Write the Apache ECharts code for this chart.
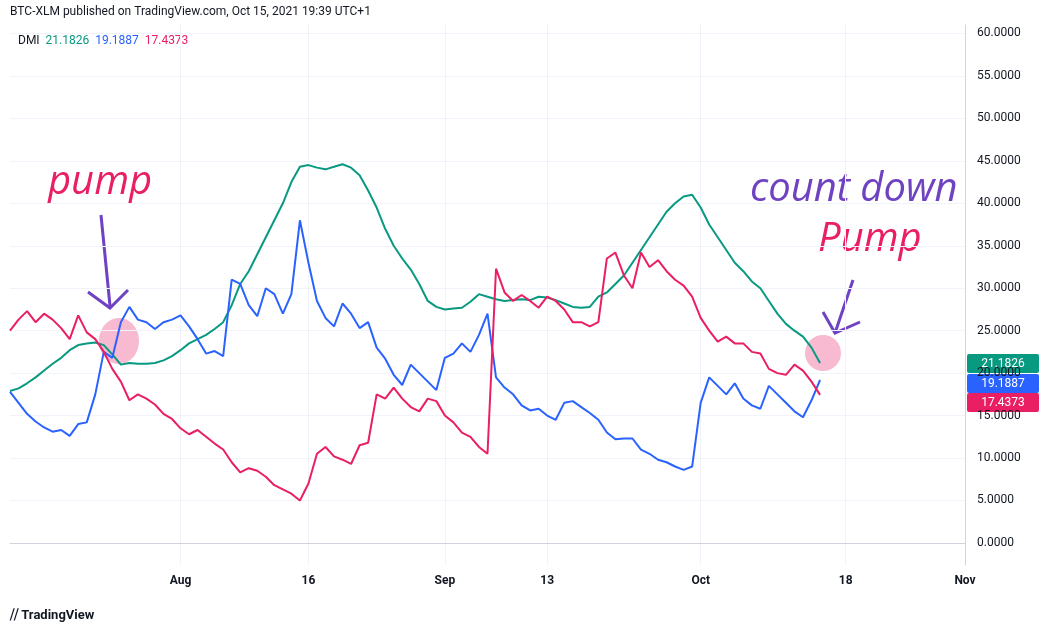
<!DOCTYPE html><html><head><meta charset="utf-8"><script src="https://cdn.jsdelivr.net/npm/echarts@6/dist/echarts.min.js"></script>
<style>body{margin:0}#c{width:1052px;height:635px}</style></head><body><div id="c"></div><script>
const months=['Jan','Feb','Mar','Apr','May','Jun','Jul','Aug','Sep','Oct','Nov','Dec'];
const categories=[];for(let d=new Date(2021,6,12);d<=new Date(2021,10,1);d.setDate(d.getDate()+1))categories.push(months[d.getMonth()]+' '+d.getDate());
const tickLabels={'Aug 1':'Aug','Aug 16':'16','Sep 1':'Sep','Sep 13':'13','Oct 1':'Oct','Oct 18':'18','Nov 1':'Nov'};
const yTicks=[0,5,10,15,20,25,30,35,40,45,50,55,60];
const adx=[17.9,18.2,18.8,19.5,20.3,21.1,21.8,22.7,23.3,23.5,23.6,23.3,22.2,21.0,21.2,21.1,21.1,21.2,21.5,22.0,22.7,23.5,24.0,24.5,25.2,26.0,28.0,30.5,32.0,34.0,36.0,38.0,40.0,42.5,44.3,44.5,44.2,44.0,44.3,44.6,44.2,43.3,41.5,39.5,37.0,35.0,33.5,32.2,30.5,28.5,27.8,27.5,27.6,27.7,28.4,29.3,29.0,28.7,28.5,28.6,28.7,28.6,29.0,28.9,28.6,28.2,27.8,27.7,27.8,29.0,29.5,30.5,31.5,33.0,34.5,36.0,37.5,39.0,40.0,40.8,41.0,39.5,37.5,36.0,34.5,33.0,32.0,30.8,30.0,28.5,27.0,25.8,25.0,24.3,23.0,21.18];
const plusDI=[17.8,16.5,15.2,14.3,13.6,13.1,13.3,12.6,14.0,14.2,17.5,22.5,21.8,26.0,27.8,26.3,26.0,25.2,26.0,26.3,26.8,25.5,24.0,22.3,22.6,22.0,31.0,30.5,28.0,26.7,30.0,29.3,27.0,29.3,38.0,33.0,28.5,26.5,25.5,28.2,27.0,25.3,26.0,23.0,21.7,19.8,18.6,21.0,20.0,19.0,18.0,21.8,22.3,23.5,22.5,24.5,27.0,19.5,18.3,17.5,16.2,15.6,15.8,15.0,14.5,16.5,16.7,16.0,15.3,14.5,13.0,12.2,12.3,12.3,11.0,10.5,9.8,9.5,9.0,8.6,9.0,16.5,19.5,18.5,17.5,18.8,17.0,16.2,15.8,18.5,17.5,16.5,15.5,14.8,16.8,19.19];
const minusDI=[25.0,26.3,27.3,26.0,27.0,26.3,25.3,24.0,26.8,24.8,24.0,22.5,20.5,19.0,16.8,17.5,17.0,16.3,15.2,14.6,13.5,12.8,13.3,12.5,11.7,11.0,9.5,8.3,8.8,8.5,7.8,6.8,6.3,5.8,5.0,7.0,10.5,11.3,10.2,9.8,9.3,11.5,11.8,17.5,17.0,18.3,17.0,16.0,15.5,17.0,16.7,15.0,14.2,13.0,12.5,11.3,10.5,32.3,29.5,28.5,29.2,28.5,27.7,29.0,28.5,27.5,26.0,26.0,25.5,26.0,33.5,34.2,31.5,30.0,34.2,32.5,33.3,32.0,31.0,30.3,29.0,26.5,25.0,23.7,24.3,23.5,23.5,22.5,22.3,20.5,20.0,19.8,21.0,20.3,19.0,17.44];
const G='#089981',B='#2962ff',R='#e91e63',P='#6f42c1';
const ch=echarts.init(document.getElementById('c'));
const ln=(d,c)=>({type:'line',data:d,symbol:'none',lineStyle:{color:c,width:2},itemStyle:{color:c}});
const tag=(y,c,t)=>({type:'group',children:[{type:'rect',shape:{x:967,y:y,width:72,height:19,r:2},style:{fill:c}},{type:'text',x:1003,y:y+10,style:{text:t,fill:'#fff',font:'12px Roboto',align:'center',verticalAlign:'middle'}}]});
ch.setOption({animation:false,
grid:{left:10,right:87,top:25,bottom:70},
xAxis:{type:'category',data:categories,boundaryGap:false,axisLine:{lineStyle:{color:'#d1d4dc'}},axisTick:{show:false},
 axisLabel:{interval:(i,v)=>!!tickLabels[v],formatter:v=>tickLabels[v]||'',color:'#131722',fontSize:12,fontWeight:'bold',fontFamily:'Roboto',margin:10},
 splitLine:{show:true,interval:(i,v)=>!!tickLabels[v],lineStyle:{color:'#f0f3fa'}}},
yAxis:{type:'value',position:'right',min:-2.6,max:61,axisLine:{show:true,lineStyle:{color:'#d1d4dc'}},
 axisTick:{show:false,customValues:yTicks},
 axisLabel:{customValues:yTicks,formatter:v=>v.toFixed(4),color:'#131722',fontSize:12,fontFamily:'Roboto',margin:12},splitLine:{lineStyle:{color:'#f0f3fa'}}},
series:[ln(adx,G),ln(plusDI,B),ln(minusDI,R)],
graphic:[
 {type:'text',x:10,y:6,style:{text:'BTC-XLM published on TradingView.com, Oct 15, 2021 19:39 UTC+1',fill:'#131722',font:'12px Roboto'}},
 {type:'text',x:18,y:35,style:{rich:{a:{fill:'#131722'},g:{fill:G},b:{fill:B},r:{fill:R}},text:'{a|DMI}  {g|21.1826}  {b|19.1887}  {r|17.4373}',font:'12px Roboto'}},
 {type:'text',x:10,y:609,style:{text:'⧸⧸ TradingView',fill:'#131722',font:'bold 13px Roboto'}},
 tag(354,G,'21.1826'),tag(374,B,'19.1887'),tag(393,R,'17.4373'),
 {type:'ellipse',shape:{cx:119,cy:341,rx:20,ry:23},style:{fill:'rgba(240,130,170,0.55)'}},
 {type:'circle',shape:{cx:823,cy:353,r:18},style:{fill:'rgba(240,130,170,0.55)'}},
 {type:'text',x:48,y:163,style:{text:'pump',fill:R,font:'italic 40px "Open Sans"'}},
 {type:'text',x:750,y:170,style:{text:'count down',fill:P,font:'italic 40px "Open Sans"'}},
 {type:'text',x:818,y:220,style:{text:'Pump',fill:R,font:'italic 40px "Open Sans"'}},
 {type:'polyline',shape:{points:[[101,215],[110,306]]},style:{stroke:P,lineWidth:3,fill:null}},
 {type:'polyline',shape:{points:[[88,292],[110,308],[128,290]]},style:{stroke:P,lineWidth:3,fill:null}},
 {type:'polyline',shape:{points:[[853,280],[835,333]]},style:{stroke:P,lineWidth:3,fill:null}},
 {type:'polyline',shape:{points:[[823,312],[835,333],[860,322]]},style:{stroke:P,lineWidth:3,fill:null}}
]});
</script></body></html>
